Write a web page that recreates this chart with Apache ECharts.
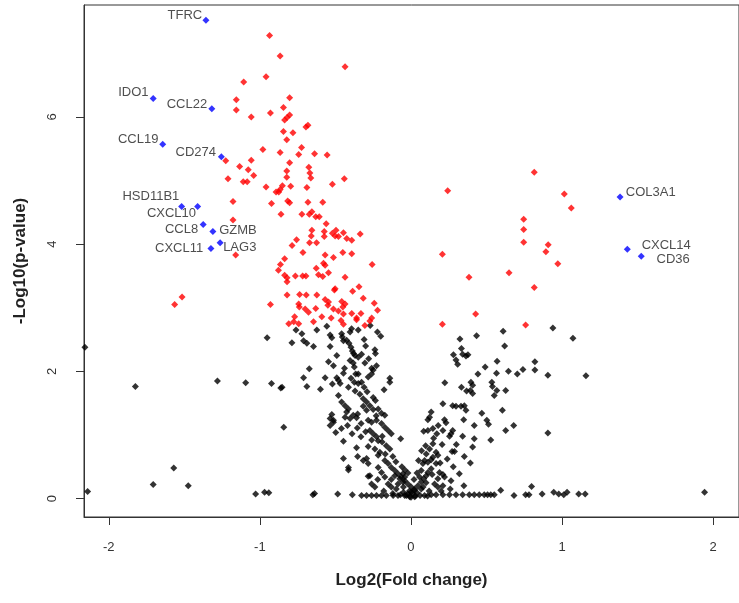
<!DOCTYPE html>
<html>
<head>
<meta charset="utf-8">
<script src="https://cdn.jsdelivr.net/npm/echarts@6/dist/echarts.min.js"></script>
<style>
html,body{margin:0;padding:0;background:#fff;}
#main{width:739px;height:603px;}
</style>
</head>
<body>
<div id="main"></div>
<script>
// ---------- DATA ----------
const xTicks = [-2, -1, 0, 1, 2];
const yTicks = [0, 2, 4, 6];
const xTitle = 'Log2(Fold change)';
const yTitle = '-Log10(p-value)';

// highlighted genes (blue)
const genes = ['TFRC','IDO1','CCL22','CCL19','CD274','HSD11B1','CXCL10','CCL8','GZMB','LAG3','CXCL11','COL3A1','CXCL14','CD36'];
const geneFC = [-1.357,-1.706,-1.318,-1.643,-1.255,-1.518,-1.412,-1.375,-1.311,-1.263,-1.324,1.384,1.432,1.524];
const genePV = [7.52,6.29,6.13,5.57,5.375,4.59,4.59,4.31,4.20,4.02,3.93,4.74,3.92,3.81];

// significant genes (red)
const sigPts = [
[-0.936,7.28],[-0.866,6.96],[-0.436,6.79],[-0.959,6.63],[-1.107,6.55],[-0.803,6.30],[-1.156,6.27],[-0.844,6.15],[-1.156,6.11],[-0.930,6.06],
[-0.803,6.03],[-0.820,5.99],[-0.836,5.95],[-1.057,6.00],[-0.682,5.87],[-0.695,5.84],[-0.844,5.77],[-0.781,5.75],[-0.822,5.64],[-0.724,5.52],
[-0.980,5.49],[-0.866,5.44],[-0.638,5.42],[-0.743,5.41],[-0.555,5.40],[-1.057,5.32],[-0.803,5.28],[-1.134,5.22],[-0.676,5.21],[-1.077,5.17],
[-0.822,5.15],[-0.669,5.12],[-1.041,5.08],[-0.822,5.05],[-0.663,5.04],[-0.441,5.03],[-1.110,4.98],[-1.084,4.98],[-0.520,4.94],[-0.851,4.92],
[-0.959,4.90],[-0.689,4.89],[-0.796,4.91],[-0.866,4.86],[-0.893,4.82],[-0.875,4.82],[-1.178,4.67],[-0.923,4.64],[-0.816,4.68],[-0.803,4.65],
[-0.682,4.66],[-0.584,4.66],[-0.860,4.47],[-0.722,4.47],[-0.656,4.51],[-0.673,4.47],[-0.630,4.43],[-0.607,4.43],[-0.561,4.32],[-1.178,4.38],
[-0.656,4.22],[-0.574,4.20],[-0.496,4.22],[-0.520,4.17],[-0.502,4.13],[-0.480,4.12],[-0.447,4.18],[-0.425,4.09],[-0.392,4.06],[-0.336,4.16],
[-0.660,4.13],[-0.574,4.12],[-0.757,4.07],[-0.671,4.02],[-0.625,4.02],[-0.787,3.98],[-0.715,3.87],[-0.392,3.85],[-0.451,3.87],[-0.568,3.83],
[-0.513,3.79],[-0.836,3.77],[-0.864,3.68],[-0.257,3.68],[-0.568,3.67],[-0.579,3.70],[-0.627,3.62],[-0.877,3.59],[-0.546,3.55],[-0.836,3.51],
[-0.820,3.47],[-0.820,3.41],[-0.765,3.50],[-0.717,3.50],[-0.695,3.50],[-0.612,3.52],[-0.584,3.49],[-0.436,3.48],[-0.344,3.33],[-0.502,3.30],
[-0.507,3.28],[-0.386,3.26],[-0.820,3.20],[-0.737,3.21],[-0.693,3.20],[-0.623,3.20],[-0.316,3.15],[-0.568,3.13],[-0.546,3.09],[-0.550,3.04],
[-0.458,3.10],[-0.436,3.06],[-0.451,3.01],[-0.930,3.05],[-0.243,3.07],[-0.743,3.06],[-0.739,3.01],[-0.630,2.99],[-0.700,2.98],[-0.678,2.93],
[-0.513,2.98],[-0.480,2.95],[-0.221,2.96],[-0.392,2.91],[-0.331,2.91],[-0.447,2.90],[-0.770,2.86],[-0.590,2.86],[-0.528,2.84],[-0.360,2.84],
[-0.260,2.84],[-0.809,2.75],[-0.776,2.78],[-0.743,2.75],[-0.645,2.78],[-0.463,2.80],[-0.447,2.74],[-0.360,2.81],[-0.305,2.72],[-0.272,2.79],
[-1.564,3.05],[-1.515,3.17],[-1.226,5.31],[-1.211,5.03],[-1.160,3.83],
[0.816,5.13],[0.243,4.84],[1.015,4.79],[1.061,4.57],[0.746,4.39],[0.746,4.23],[0.746,4.03],[0.908,3.99],[0.893,3.88],[0.208,3.84],
[0.972,3.69],[0.649,3.55],[0.384,3.48],[0.816,3.32],[0.428,2.90],[0.208,2.74],[0.759,2.73]
];

// non-significant genes (black)
const nsPts = [
[0.939,2.68],[1.072,2.52],[0.324,2.51],[0.434,2.56],[0.610,2.63],[0.620,2.40],[0.334,2.36],[0.281,2.26],[0.342,2.27],[0.364,2.24],
[0.377,2.26],[0.298,2.18],[0.309,2.11],[0.570,2.16],[0.491,2.07],[0.820,2.15],[0.820,2.02],[0.741,2.03],[0.704,1.96],[0.645,2.00],
[0.566,1.97],[0.443,1.96],[0.906,1.94],[1.158,1.93],[0.224,1.82],[0.397,1.83],[0.408,1.78],[0.334,1.75],[0.368,1.69],[0.393,1.70],
[0.408,1.65],[0.535,1.83],[0.539,1.76],[0.568,1.70],[0.551,1.62],[0.627,1.70],[0.211,1.49],[0.276,1.46],[0.298,1.45],[0.331,1.45],
[0.353,1.46],[0.364,1.39],[0.605,1.39],[0.469,1.34],[0.134,1.36],[0.123,1.28],[0.222,1.24],[0.232,1.19],[0.349,1.24],[0.112,1.24],
[0.502,1.23],[0.513,1.17],[0.419,1.15],[0.680,1.15],[0.627,1.07],[0.906,1.03],[0.084,1.06],[0.112,1.07],[0.145,1.10],[0.171,1.02],
[0.211,1.07],[0.265,1.02],[0.276,1.07],[0.255,0.98],[0.342,0.98],[0.419,0.94],[0.528,0.92],[0.097,0.83],[0.145,0.86],[0.206,0.85],
[0.123,0.78],[0.272,0.74],[0.288,0.74],[0.408,0.81],[0.166,0.73],[0.178,0.68],[0.145,0.65],[0.353,0.66],[0.393,0.56],[0.090,0.60],
[0.112,0.57],[0.134,0.61],[0.166,0.55],[0.193,0.56],[0.320,0.39],[0.265,0.28],[0.189,0.41],[0.211,0.38],[0.222,0.34],[0.178,0.31],
[0.134,0.47],[0.112,0.41],[0.101,0.36],[0.084,0.31],[0.068,0.26],[0.046,0.20],[0.024,0.15],[0.002,0.10],[-0.020,0.07],[0.156,0.23],
[0.178,0.18],[0.211,0.20],[-0.053,0.39],[-0.041,0.34],[-0.053,0.26],
[0.134,0.06],[0.166,0.06],[0.211,0.06],[0.255,0.06],[0.298,0.06],[0.342,0.06],[0.386,0.06],[0.419,0.06],[0.452,0.06],[0.485,0.06],
[0.507,0.06],[0.528,0.06],[0.551,0.06],[0.594,0.13],[0.682,0.05],[0.759,0.06],[0.781,0.06],[0.798,0.19],[0.868,0.07],[0.945,0.10],
[0.978,0.07],[1.011,0.06],[1.033,0.10],[1.110,0.07],[1.153,0.07],[1.943,0.10],
[-0.761,2.65],[-0.722,2.59],[-0.623,2.65],[-0.557,2.71],[-0.535,2.57],[-0.524,2.53],[-0.459,2.59],[-0.454,2.54],[-0.447,2.48],[-0.403,2.62],
[-0.393,2.67],[-0.349,2.65],[-0.222,2.62],[-0.788,2.45],[-0.711,2.48],[-0.689,2.44],[-0.645,2.39],[-0.535,2.39],[-0.426,2.49],[-0.410,2.44],
[-0.397,2.38],[-0.388,2.32],[-0.380,2.28],[-0.370,2.25],[-0.349,2.22],[-0.327,2.27],[-0.239,2.34],[-0.235,2.28],[-0.491,2.25],[-0.546,2.15],
[-0.513,2.09],[-0.403,2.17],[-0.382,2.13],[-0.305,2.13],[-0.228,2.09],[-0.673,2.04],[-0.375,2.07],[-0.447,1.97],[-0.366,1.96],[-0.349,1.96],
[-0.250,2.02],[-0.261,1.96],[-0.283,1.91],[-0.568,1.90],[-0.491,1.90],[-0.480,1.86],[-0.469,1.81],[-0.711,1.90],[-0.397,1.89],[-0.375,1.83],
[-0.349,1.81],[-0.327,1.83],[-0.140,1.89],[-0.140,1.83],[-0.853,1.75],[-0.689,1.76],[-0.599,1.72],[-0.414,1.75],[-0.370,1.69],[-0.338,1.64],
[-0.316,1.57],[-0.294,1.52],[-0.272,1.46],[-0.250,1.59],[-0.235,1.54],[-0.178,1.71],[-0.459,1.52],[-0.436,1.46],[-0.414,1.41],[-0.426,1.36],
[-0.316,1.45],[-0.294,1.39],[-0.217,1.41],[-0.195,1.34],[-0.173,1.31],[-0.524,1.32],[-0.535,1.26],[-0.513,1.23],[-0.436,1.28],[-0.403,1.26],
[-0.382,1.31],[-0.353,1.33],[-0.360,1.27],[-0.283,1.23],[-0.261,1.20],[-0.228,1.23],[-0.195,1.18],[-0.173,1.12],[-0.151,1.07],[-0.130,1.02],
[-0.842,1.12],[-0.498,1.04],[-0.355,1.11],[-0.272,1.07],[-0.250,1.02],[-0.228,0.97],[-0.217,0.91],[-0.331,0.97],[-0.191,0.89],[-0.163,0.83],
[-0.140,0.78],[-0.068,0.94],[-0.283,0.82],[-0.239,0.78],[-0.206,0.73],[-0.217,0.68],[-0.447,0.90],[-0.353,0.66],[-0.447,0.63],[-0.294,0.63],
[-0.283,0.55],[-0.414,0.49],[-0.173,0.60],[-0.151,0.55],[-0.130,0.49],[-0.107,0.44],[-0.086,0.39],[-0.064,0.34],[-0.041,0.28],[-0.020,0.23],
[0.002,0.18],[0.024,0.13],[-0.217,0.49],[-0.195,0.41],[-0.173,0.34],[-0.107,0.36],[-0.074,0.31],[-0.086,0.23],[-0.283,0.35],[-0.261,0.23],
[-0.239,0.18],[-0.151,0.23],[-0.130,0.18],[-0.097,0.15],[0.079,0.55],[0.068,0.44],[0.057,0.34],[0.068,0.15],[0.101,0.70],
[-0.638,0.08],[-0.649,0.06],[-0.485,0.07],[-0.388,0.06],[-0.327,0.05],[-0.294,0.05],[-0.261,0.05],[-0.228,0.05],[-0.195,0.05],[-0.163,0.05],
[-0.118,0.05],[-0.086,0.05],[-0.041,0.05],[-0.009,0.03],[0.024,0.03],
[-2.158,2.38],[-0.952,2.53],[-1.824,1.76],[-1.281,1.85],[-1.094,1.82],[-0.923,1.81],[-0.862,1.74],[-1.570,0.48],[-1.706,0.22],[-1.474,0.20],
[-2.140,0.11],[-1.028,0.07],[-0.969,0.10],[-0.941,0.09],[-0.513,1.20],[-0.535,1.15],[-0.414,0.45],[-0.316,0.60],[-0.272,0.36],
[-0.03,0.05],[0.00,0.02],[0.03,0.04],[0.01,0.08],[-0.01,0.12],[0.04,0.09],[-0.05,0.10],[0.06,0.05],[0.09,0.05],[0.11,0.04],
[-0.07,0.06],[-0.12,0.08],[0.02,0.30],[-0.02,0.40],[0.10,0.25],[0.12,0.12],
[-0.30,2.40],[-0.28,2.20],[-0.26,2.05],[-0.31,1.75],[-0.29,1.68],[-0.25,1.40],[-0.23,1.30],[-0.33,1.18],[-0.30,1.05],[-0.26,0.92],
[-0.19,0.98],[-0.17,0.70],[-0.12,0.66],[-0.10,0.58],[-0.06,0.50],[-0.04,0.45],[-0.13,0.30],[-0.05,0.18],[-0.18,0.12],[-0.22,0.30],
[-0.36,0.80],[-0.39,1.02],[-0.42,1.15],[-0.46,1.10],[-0.48,1.62],[-0.52,1.80],[-0.44,2.05],[-0.31,2.50],[-0.27,2.72],[-0.20,2.55],
[0.05,0.60],[0.07,0.75],[0.15,0.95],[0.18,1.15],[0.24,0.62],[0.28,0.50],[0.30,0.85],[0.14,0.38],[0.20,0.12],[0.26,0.15],
[0.35,0.20],[0.04,0.40],[0.08,0.18]
];

// ---------- STYLE (label placement per gene: side, [dx to text edge, dy of text centre] in px) ----------
const labelPlace = {
  TFRC:['left',[-3.7,-5]], IDO1:['left',[-4.7,-5.6]], CCL22:['left',[-4.7,-4.7]], CCL19:['left',[-4.3,-5.3]],
  CD274:['left',[-5.3,-4]], HSD11B1:['left',[-2.3,-10]], CXCL10:['left',[-1.6,6.7]], CCL8:['left',[-5,5]],
  GZMB:['right',[6.3,-0.6]], LAG3:['right',[3,5]], CXCL11:['left',[-7.7,0.3]],
  COL3A1:['right',[5.7,-4.3]], CXCL14:['right',[14.3,-4.3]], CD36:['right',[15.3,3]]
};

const FONT = '"Liberation Sans", Arial, sans-serif';
const axisColor = '#333';
const SYM = 7;

const blueData = genes.map((g, i) => {
  const side = labelPlace[g][0], d = labelPlace[g][1];
  return {
    value: [geneFC[i], genePV[i]],
    name: g,
    label: {
      show: true,
      formatter: g,
      position: [d[0] + SYM / 2, d[1] + SYM / 2],
      align: side === 'left' ? 'right' : 'left',
      verticalAlign: 'middle',
      fontSize: 13,
      fontFamily: FONT,
      color: '#222'
    }
  };
});

const chart = echarts.init(document.getElementById('main'), null, {renderer: 'canvas'});
chart.setOption({
  animation: false,
  backgroundColor: '#ffffff',
  grid: {left: 84, width: 659, top: 5, height: 512, show: true, borderColor: axisColor, borderWidth: 1, backgroundColor: 'transparent'},
  xAxis: {
    type: 'value', min: -2.164, max: 2.171,
    axisLine: {show: true, onZero: false, lineStyle: {color: axisColor, width: 1}},
    axisTick: {show: true, length: 8, inside: false, customValues: xTicks, lineStyle: {color: axisColor}},
    axisLabel: {customValues: xTicks, margin: 24, fontSize: 13, fontFamily: FONT, color: '#333'},
    splitLine: {show: false},
    name: xTitle, nameLocation: 'middle', nameGap: 55,
    nameTextStyle: {fontSize: 17, fontWeight: 'bold', fontFamily: FONT, color: '#222'}
  },
  yAxis: {
    type: 'value', min: -0.29, max: 7.76,
    axisLine: {show: true, onZero: false, lineStyle: {color: axisColor, width: 1}},
    axisTick: {show: true, length: 8, inside: false, customValues: yTicks, lineStyle: {color: axisColor}},
    axisLabel: {customValues: yTicks, rotate: 90, margin: 25, fontSize: 13, fontFamily: FONT, color: '#333'},
    splitLine: {show: false},
    name: yTitle, nameLocation: 'middle', nameGap: 55, nameRotate: 90,
    nameTextStyle: {fontSize: 17, fontWeight: 'bold', fontFamily: FONT, color: '#222'}
  },
  series: [
    {type: 'scatter', data: nsPts, symbol: 'diamond', symbolSize: SYM, itemStyle: {color: '#000000'}, silent: true, z: 2},
    {type: 'scatter', data: sigPts, symbol: 'diamond', symbolSize: SYM, itemStyle: {color: '#ff0000'}, silent: true, z: 3},
    {type: 'scatter', data: blueData, symbol: 'diamond', symbolSize: SYM, itemStyle: {color: '#0000ff'}, silent: true, z: 4}
  ]
});
</script>
</body>
</html>
